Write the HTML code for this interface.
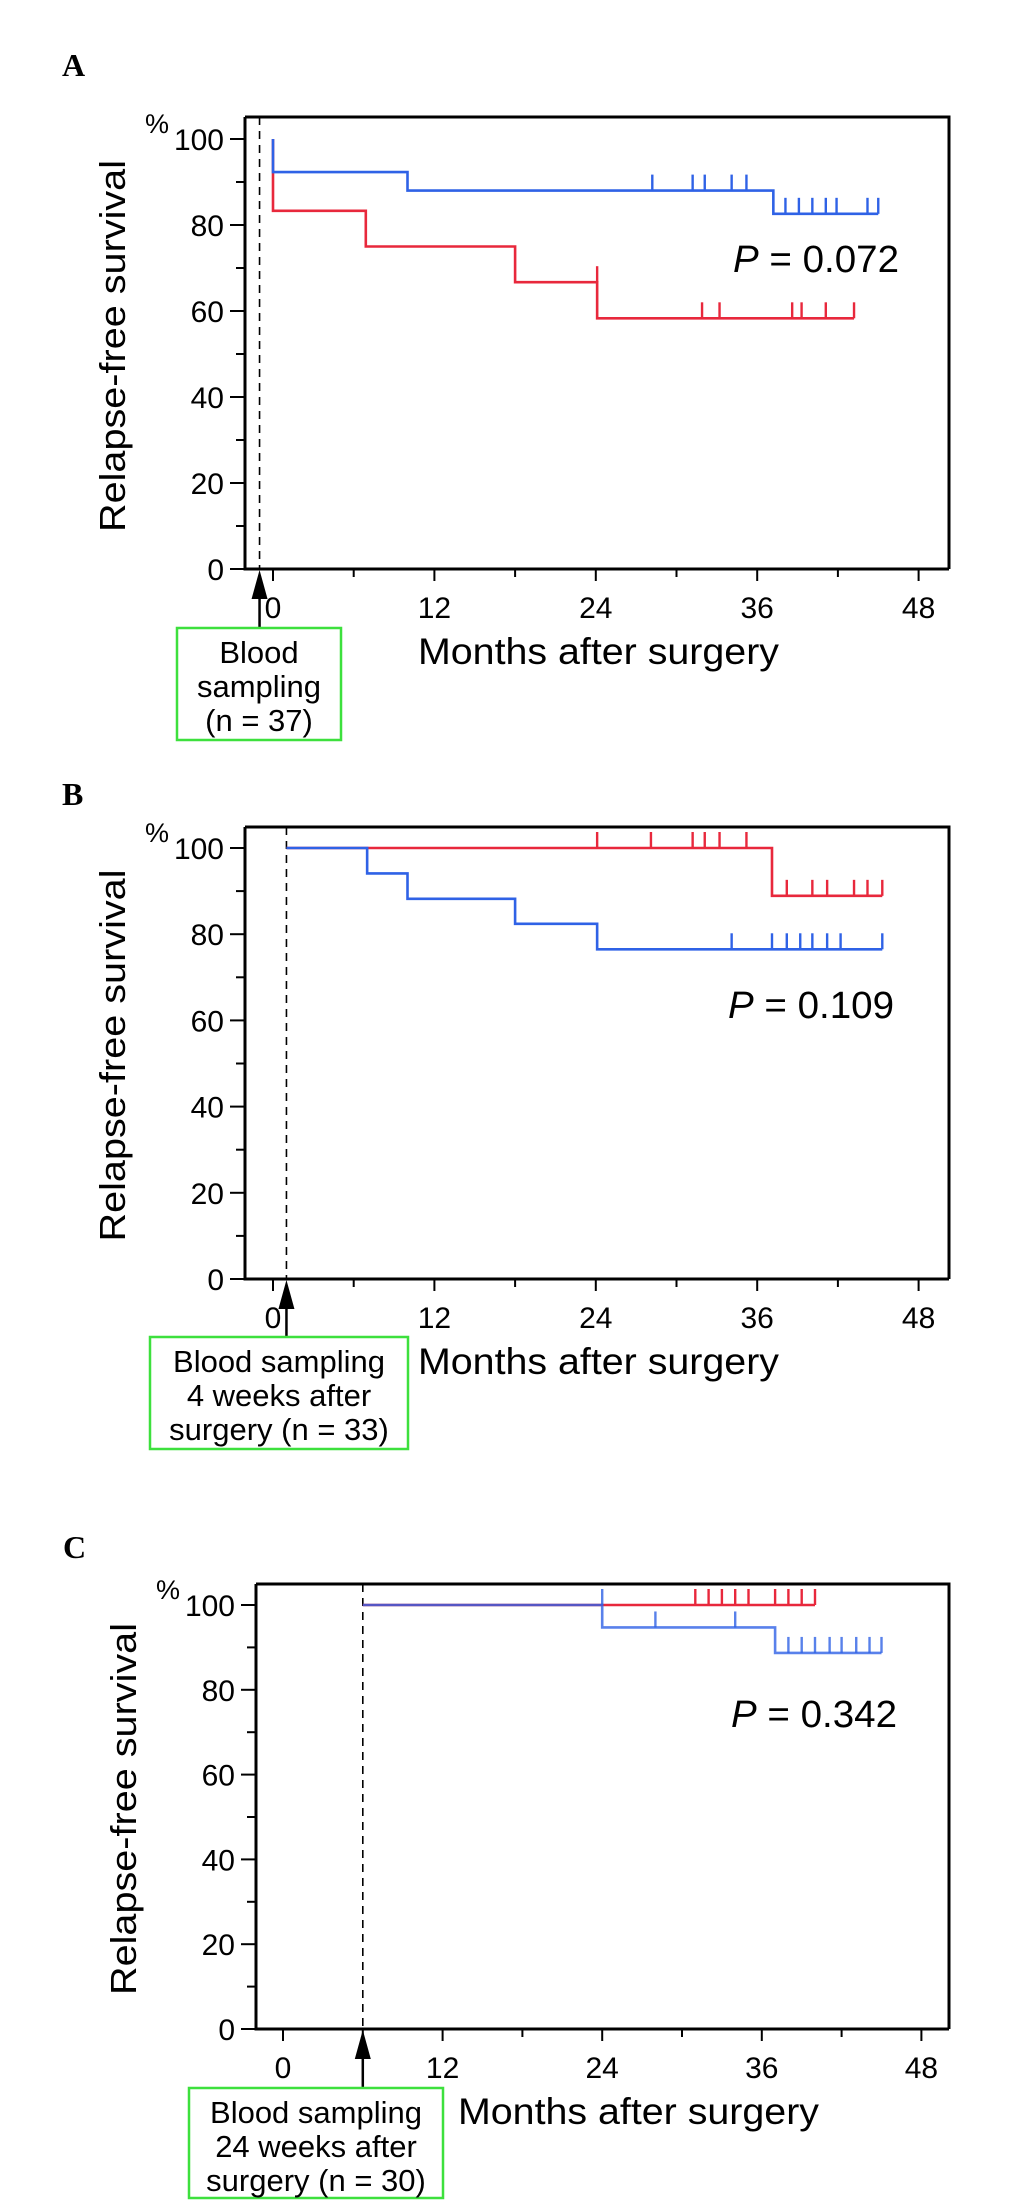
<!DOCTYPE html>
<html>
<head>
<meta charset="utf-8">
<style>
  html,body{margin:0;padding:0;background:#fff;}
  svg{display:block;}
  text{font-family:"Liberation Sans",Arial,sans-serif;fill:#000;}
  .panel-letter{font-family:"Liberation Serif","Times New Roman",serif;font-weight:bold;}
</style>
</head>
<body>
<svg id="fig" width="1033" height="2209" viewBox="0 0 1033 2209" xmlns="http://www.w3.org/2000/svg"></svg>
<script>
// ---- Panel A data ----
const aBlueEventTimes = [0, 10, 37.2];
const aBlueEventSurv = [92.3, 88.0, 82.6];
const aBlueCensor = [28.2, 31.2, 32.1, 34.1, 35.2, 38.1, 39.1, 40.1, 41.1, 41.9, 44.2, 45.0];
const aRedEventTimes = [0, 6.9, 18, 24.1];
const aRedEventSurv = [83.3, 75.0, 66.7, 58.3];
const aRedCensor = [24.1, 31.9, 33.2, 38.6, 39.3, 41.1, 43.2];
const aSampling = -1;
const aPValue = "0.072";
// ---- Panel B data ----
const bBlueEventTimes = [7, 10, 18, 24.1];
const bBlueEventSurv = [94.1, 88.2, 82.4, 76.5];
const bBlueCensor = [34.1, 37.1, 38.2, 39.2, 40.1, 41.2, 42.2, 45.3];
const bRedEventTimes = [37.1];
const bRedEventSurv = [88.9];
const bRedCensor = [24.1, 28.1, 31.2, 32.1, 33.2, 35.2, 38.2, 40.1, 41.2, 43.2, 44.2, 45.3];
const bSampling = 1;
const bPValue = "0.109";
// ---- Panel C data ----
const cBlueEventTimes = [24, 37];
const cBlueEventSurv = [94.7, 88.7];
const cBlueCensor = [24, 28, 34, 38, 39, 40, 41.1, 42, 43.1, 44.1, 45];
const cRedEventTimes = [];
const cRedEventSurv = [];
const cRedCensor = [31, 32, 33, 34, 35, 37, 38, 39, 40];
const cSampling = 6;
const cPValue = "0.342";
// ---- Axis ticks ----
const yTickLabels = [0, 20, 40, 60, 80, 100];
const yMinorTicks = [10, 30, 50, 70, 90];
const xTickLabels = [0, 12, 24, 36, 48];
const xMinorTicks = [6, 18, 30, 42];

const NS = "http://www.w3.org/2000/svg";
const svg = document.getElementById("fig");
function mk(tag, attrs, parent) {
  const e = document.createElementNS(NS, tag);
  for (const k in attrs) e.setAttribute(k, attrs[k]);
  (parent || svg).appendChild(e);
  return e;
}
const BLUE = "#2f62e6", RED = "#e8283c";

function levelAt(times, surv, t) {
  let s = 100;
  for (let i = 0; i < times.length; i++) if (times[i] < t) s = surv[i];
  return s;
}

function panel(p) {
  const g = mk("g", {});
  
  
  const X = t => p.x0 + t * p.kx;
  const Y = v => p.y0 - v * p.ky;

  const L = mk("text", {x: p.letterX, y: p.letterY, "font-size": 32, class: "panel-letter"}, g);
  L.textContent = p.letter;
  
  

  const fr = mk("path", {d: `M${p.left} ${p.top} H${p.right} V${p.y0} M${p.left} ${p.top} V${p.y0} H${p.right}`, stroke: "#000", "stroke-width": 3, fill: "none"}, g);
  
  

  yTickLabels.forEach(v => {
    const tk = mk("line", {x1: p.left - 15, x2: p.left, y1: Y(v), y2: Y(v), stroke: "#000", "stroke-width": 2}, g);
    
    
    const tl = mk("text", {x: p.left - 21, y: Y(v) + 11, "font-size": 30, "text-anchor": "end"}, g);
    tl.textContent = v;
    
    
  });
  yMinorTicks.forEach(v => {
    const tk = mk("line", {x1: p.left - 9, x2: p.left, y1: Y(v), y2: Y(v), stroke: "#000", "stroke-width": 2}, g);
    
    
  });
  const pc = mk("text", {x: p.left - 100, y: Y(100) - 6, "font-size": 27}, g);
  pc.textContent = "%";
  
  

  xTickLabels.forEach(v => {
    const tk = mk("line", {x1: X(v), x2: X(v), y1: p.y0, y2: p.y0 + 12, stroke: "#000", "stroke-width": 2}, g);
    
    
    const tl = mk("text", {x: X(v), y: p.y0 + 49, "font-size": 30, "text-anchor": "middle"}, g);
    tl.textContent = v;
    
    
  });
  xMinorTicks.forEach(v => {
    const tk = mk("line", {x1: X(v), x2: X(v), y1: p.y0, y2: p.y0 + 8, stroke: "#000", "stroke-width": 2}, g);
    
    
  });

  const yt = mk("text", {x: 0, y: 0, "font-size": 36, "text-anchor": "middle", transform: `translate(${p.left - 120},${(Y(100) + p.y0) / 2 - 8}) rotate(-90)`, textLength: 372, lengthAdjust: "spacingAndGlyphs"}, g);
  yt.textContent = "Relapse-free survival";
  
  
  const xt = mk("text", {x: p.xTitleX, y: p.y0 + 95, "font-size": 37, textLength: 361, lengthAdjust: "spacingAndGlyphs"}, g);
  xt.textContent = "Months after surgery";
  
  

  const sx = X(p.sampling);
  const dl = mk("line", {x1: sx, x2: sx, y1: p.top, y2: p.y0, stroke: "#000", "stroke-width": 1.6, "stroke-dasharray": "8,6"}, g);
  
  
  const ar = mk("line", {x1: sx, x2: sx, y1: p.boxY, y2: p.y0 + 20, stroke: "#000", "stroke-width": 2.5}, g);
  
  
  const ah = mk("polygon", {points: `${sx},${p.y0 + 1} ${sx - 8},${p.y0 + 30} ${sx + 8},${p.y0 + 30}`, fill: "#000"}, g);
  
  

  const bx = mk("rect", {x: p.boxX, y: p.boxY, width: p.boxW, height: p.boxH, fill: "#fff", stroke: "#3de03d", "stroke-width": 2.5}, g);
  
  
  p.boxLines.forEach((ln, i) => {
    const t = mk("text", {x: p.boxX + p.boxW / 2, y: p.boxY + 35 + i * 34, "font-size": 31, "text-anchor": "middle"}, g);
    t.textContent = ln;
    
    
  });

  function curve(times, surv, censor, color, name, opacity) {
    let d = `M${X(p.sampling < 0 ? 0 : p.sampling)} ${Y(100)}`;
    times.forEach((t, i) => { d += ` H${X(t)} V${Y(surv[i])}`; });
    const end = Math.max(...censor, ...times);
    d += ` H${X(end)}`;
    const c = mk("path", {d: d, stroke: color, "stroke-width": 2.6, fill: "none", opacity: opacity}, g);
    
    
    censor.forEach(t => {
      const lv = levelAt(times, surv, t);
      const m = mk("line", {x1: X(t), x2: X(t), y1: Y(lv), y2: Y(lv) - 16, stroke: color, "stroke-width": 2.4, opacity: opacity}, g);
      
      
    });
  }
  curve(p.red[0], p.red[1], p.red[2], RED, "red-group", 1);
  curve(p.blue[0], p.blue[1], p.blue[2], BLUE, "blue-group", p.blueOpacity);

  const pv = mk("text", {x: p.pX, y: p.pY, "font-size": 38, textLength: 166, lengthAdjust: "spacingAndGlyphs"}, g);
  const ti = mk("tspan", {"font-style": "italic"}, pv);
  ti.textContent = "P";
  const tr = mk("tspan", {}, pv);
  tr.textContent = " = " + p.pval;
  
  
}

panel({name: "panel-a", letter: "A", letterX: 62, letterY: 76, left: 245, right: 949, top: 117, y0: 569, x0: 273, kx: 13.45, ky: 4.3,
  sampling: aSampling, xTitleX: 418, boxX: 177, boxY: 628, boxW: 164, boxH: 112,
  boxLines: ["Blood", "sampling", "(n = 37)"],
  red: [aRedEventTimes, aRedEventSurv, aRedCensor], blue: [aBlueEventTimes, aBlueEventSurv, aBlueCensor], blueOpacity: 1,
  pX: 733, pY: 272, pval: aPValue});
panel({name: "panel-b", letter: "B", letterX: 62, letterY: 805, left: 245, right: 949, top: 827, y0: 1279, x0: 273, kx: 13.45, ky: 4.31,
  sampling: bSampling, xTitleX: 418, boxX: 150, boxY: 1337, boxW: 258, boxH: 112,
  boxLines: ["Blood sampling", "4 weeks after", "surgery (n = 33)"],
  red: [bRedEventTimes, bRedEventSurv, bRedCensor], blue: [bBlueEventTimes, bBlueEventSurv, bBlueCensor], blueOpacity: 1,
  pX: 728, pY: 1018, pval: bPValue});
panel({name: "panel-c", letter: "C", letterX: 63, letterY: 1558, left: 256, right: 949, top: 1584, y0: 2029, x0: 283, kx: 13.3, ky: 4.24,
  sampling: cSampling, xTitleX: 458, boxX: 189, boxY: 2088, boxW: 254, boxH: 110,
  boxLines: ["Blood sampling", "24 weeks after", "surgery (n = 30)"],
  red: [cRedEventTimes, cRedEventSurv, cRedCensor], blue: [cBlueEventTimes, cBlueEventSurv, cBlueCensor], blueOpacity: 0.8,
  pX: 731, pY: 1727, pval: cPValue});
</script>
</body>
</html>
